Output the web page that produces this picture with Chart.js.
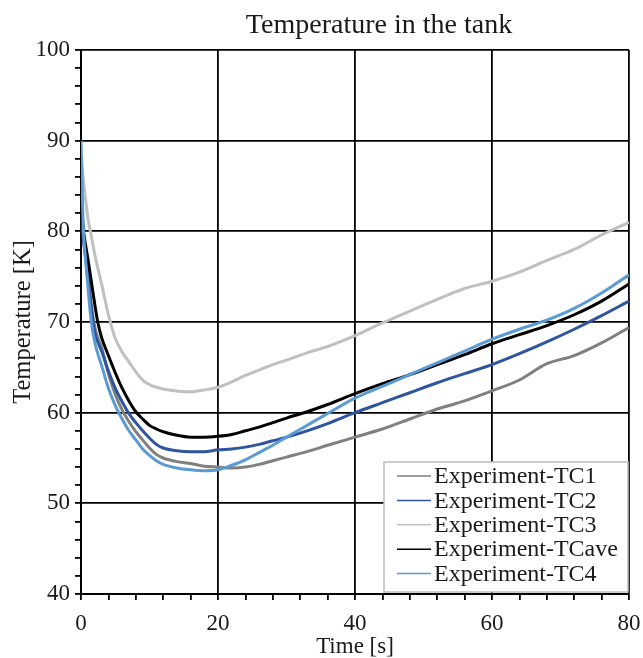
<!DOCTYPE html>
<html>
<head>
<meta charset="utf-8">
<script src="https://cdn.jsdelivr.net/npm/chart.js@4.4.1/dist/chart.umd.min.js"></script>
<style>
  html, body { margin: 0; padding: 0; background: #fff; }
  #wrap { width: 643px; height: 658px; }
</style>
</head>
<body>
<div id="wrap"><canvas id="chart" width="643" height="658"></canvas></div>
<script>
const times = [0, 0.3, 0.6, 1, 1.5, 2, 2.5, 3, 4, 5, 6, 7, 8, 9, 10, 11, 12, 14, 16, 18, 20,
    22, 24, 26, 28, 30, 33, 36, 40, 44, 48, 52, 56, 60, 64, 68, 72, 76, 80];

const tc1 = [85, 80, 78, 75.5, 72, 69.5, 68.2, 67.2, 64.3, 62.0, 60.3, 59.0, 57.9, 57.0, 56.1, 55.4, 55.0, 54.6, 54.4, 54.1, 54.0,
    53.9, 54.0, 54.3, 54.7, 55.1, 55.7, 56.4, 57.3, 58.2, 59.3, 60.4, 61.3, 62.4, 63.6, 65.4, 66.3, 67.7, 69.4];

const tc2 = [84, 79.5, 77.5, 75, 71.5, 68.9, 67.7, 66.8, 64.6, 62.7, 61.2, 59.9, 58.9, 58.0, 57.2, 56.5, 56.1, 55.8, 55.7, 55.7, 55.9,
    56.0, 56.2, 56.5, 56.9, 57.3, 58.0, 58.8, 60.0, 61.1, 62.2, 63.3, 64.3, 65.3, 66.5, 67.8, 69.2, 70.7, 72.3];

const tc3 = [88.5, 86, 84, 81.5, 79.5, 77.5, 75.8, 74.2, 70.8, 68.2, 66.7, 65.6, 64.5, 63.6, 63.1, 62.8, 62.6, 62.4, 62.3, 62.5, 62.8,
    63.4, 64.1, 64.7, 65.3, 65.8, 66.6, 67.3, 68.5, 69.9, 71.2, 72.5, 73.7, 74.5, 75.5, 76.8, 78.0, 79.6, 81.0];

const tcAve = [84.5, 80.5, 78.8, 77, 74.5, 72, 69.8, 68.3, 66.3, 64.4, 62.7, 61.3, 60.1, 59.3, 58.6, 58.2, 57.9, 57.5, 57.3, 57.3, 57.4,
    57.6, 58.0, 58.4, 58.9, 59.4, 60.1, 60.9, 62.1, 63.2, 64.2, 65.3, 66.4, 67.6, 68.6, 69.6, 70.8, 72.3, 74.2];

const tc4 = [90, 81, 77.5, 74, 70, 67.8, 66.4, 65.2, 62.7, 60.8, 59.3, 58.0, 57.0, 56.0, 55.3, 54.7, 54.3, 53.9, 53.7, 53.6, 53.7,
    54.2, 54.8, 55.6, 56.4, 57.3, 58.6, 59.9, 61.6, 62.9, 64.2, 65.5, 66.8, 68.1, 69.2, 70.2, 71.5, 73.2, 75.2];

const seriesNames = ['Experiment-TC1', 'Experiment-TC2', 'Experiment-TC3', 'Experiment-TCave', 'Experiment-TC4'];

const SERIF = '"Liberation Serif", "Times New Roman", serif';
const TEXT = '#1a1a1a';

function toPoints(values) {
    return values.map((v, i) => ({ x: times[i], y: v }));
}

function makeSet(label, values, color, order) {
    return {
        label: label,
        data: toPoints(values),
        borderColor: color,
        backgroundColor: color,
        borderWidth: 3,
        pointRadius: 0,
        cubicInterpolationMode: 'monotone',
        order: order
    };
}

// title drawn by hand so it can sit off-centre like the original
const titlePlugin = {
    id: 'tankTitle',
    afterDraw(chart) {
        const ctx = chart.ctx;
        ctx.save();
        ctx.font = '28px ' + SERIF;
        ctx.fillStyle = TEXT;
        ctx.textAlign = 'center';
        ctx.textBaseline = 'alphabetic';
        ctx.fillText('Temperature in the tank', 379, 33);
        ctx.restore();
    }
};

// boxed legend in the lower right corner of the plot
const boxLegend = {
    id: 'boxLegend',
    afterDatasetsDraw(chart) {
        const ctx = chart.ctx;
        const area = chart.chartArea;
        const x0 = 384, y0 = 462, w = area.right - 1 - x0, h = area.bottom - 2 - y0;
        ctx.save();
        ctx.fillStyle = '#fff';
        ctx.fillRect(x0, y0, w, h);
        ctx.strokeStyle = '#bdbdbd';
        ctx.lineWidth = 1.5;
        ctx.strokeRect(x0, y0, w, h);
        ctx.font = '24px ' + SERIF;
        ctx.textBaseline = 'middle';
        ctx.textAlign = 'left';
        chart.data.datasets.forEach((ds, i) => {
            const y = y0 + 14 + i * 24.4;
            ctx.strokeStyle = ds.borderColor;
            ctx.lineWidth = 1.5;
            ctx.beginPath();
            ctx.moveTo(x0 + 13, y);
            ctx.lineTo(x0 + 47, y);
            ctx.stroke();
            ctx.fillStyle = TEXT;
            ctx.fillText(ds.label, x0 + 50, y + 1);
        });
        ctx.restore();
    }
};

const data = {
    datasets: [
        makeSet(seriesNames[0], tc1, '#808080', 4),
        makeSet(seriesNames[1], tc2, '#2f55a0', 3),
        makeSet(seriesNames[2], tc3, '#c0c0c0', 5),
        makeSet(seriesNames[3], tcAve, '#000000', 2),
        makeSet(seriesNames[4], tc4, '#5b9bd5', 1)
    ]
};

const config = {
    type: 'line',
    data: data,
    options: {
        responsive: false,
        animation: false,
        layout: { padding: { left: 0, right: 14, top: 50, bottom: 0 } },
        plugins: {
            legend: { display: false },
            title: { display: false },
            tooltip: { enabled: false }
        },
        scales: {
            x: {
                type: 'linear',
                min: 0,
                max: 80,
                afterFit(scale) {
                    scale.height = 64;
                    scale.paddingLeft = 0;
                    scale.paddingRight = 0;
                },
                ticks: {
                    stepSize: 4,
                    autoSkip: false,
                    maxRotation: 0,
                    padding: 10,
                    color: TEXT,
                    font: { family: SERIF, size: 23 },
                    callback: v => (v % 20 === 0 ? String(v) : '')
                },
                grid: {
                    color: ctx => (ctx.tick && ctx.tick.value % 20 === 0 ? '#000' : 'rgba(0,0,0,0)'),
                    tickColor: '#000',
                    lineWidth: 1.8,
                    tickLength: 6
                },
                border: { color: '#000', width: 2 },
                title: {
                    display: true,
                    text: 'Time [s]',
                    color: TEXT,
                    font: { family: SERIF, size: 23 },
                    padding: { top: 0, bottom: -3 }
                }
            },
            y: {
                min: 40,
                max: 100,
                afterFit(scale) {
                    scale.width = 81;
                    scale.paddingTop = 0;
                    scale.paddingBottom = 0;
                },
                ticks: {
                    stepSize: 2,
                    autoSkip: false,
                    padding: 5,
                    color: TEXT,
                    font: { family: SERIF, size: 23 },
                    callback: v => (v % 10 === 0 ? String(v) : '')
                },
                grid: {
                    color: ctx => (ctx.tick && ctx.tick.value % 10 === 0 ? '#000' : 'rgba(0,0,0,0)'),
                    tickColor: '#000',
                    lineWidth: 1.8,
                    tickLength: 6
                },
                border: { color: '#000', width: 2 },
                title: {
                    display: true,
                    text: 'Temperature [K]',
                    color: TEXT,
                    font: { family: SERIF, size: 24.5 },
                    padding: { top: 9, bottom: 0 }
                }
            }
        }
    },
    plugins: [titlePlugin, boxLegend]
};

new Chart(document.getElementById('chart').getContext('2d'), config);
</script>
</body>
</html>
